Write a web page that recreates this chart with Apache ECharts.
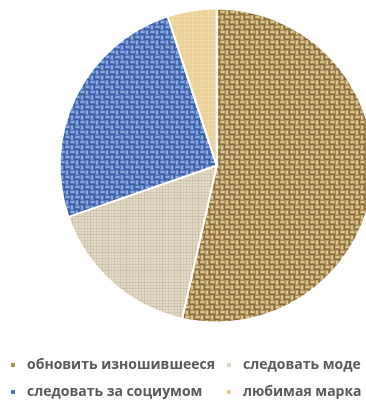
<!DOCTYPE html>
<html>
<head>
<meta charset="utf-8">
<script src="https://cdn.jsdelivr.net/npm/echarts@6/dist/echarts.min.js"></script>
<style>
  html, body { margin: 0; padding: 0; background: #fff; }
  #chart { width: 366px; height: 405px; }
</style>
</head>
<body>
<div id="chart"></div>
<script>
// Причины покупки новой одежды (доли, %)
const categories = ['обновить изношившееся', 'следовать моде', 'следовать за социумом', 'любимая марка'];
const values = [53, 16, 25, 5];

// Woven fabric tile: alternating warp/weft floats over a darker ground
function weave(base, light, dark, cell) {
  const n = 6, size = cell * n;
  const c = document.createElement('canvas');
  c.width = size; c.height = size;
  const g = c.getContext('2d');
  g.fillStyle = base; g.fillRect(0, 0, size, size);
  for (let i = 0; i < n; i++) {
    for (let j = 0; j < n; j++) {
      const x = i * cell, y = j * cell;
      const horiz = (i + j) % 2 === 0;
      g.fillStyle = dark;
      g.globalAlpha = 0.5;
      if (horiz) g.fillRect(x, y + cell - 1, cell, 1);
      else g.fillRect(x + cell - 1, y, 1, cell);
      g.globalAlpha = 0.8;
      g.fillStyle = light;
      if (horiz) g.fillRect(x + 0.5, y + 1, cell - 1, 2);
      else g.fillRect(x + 1, y + 0.5, 2, cell - 1);
    }
  }
  g.globalAlpha = 1;
  return c;
}
// Fine linen tile: soft grid of threads
function linen(base, line, step) {
  const size = step * 6;
  const c = document.createElement('canvas');
  c.width = size; c.height = size;
  const g = c.getContext('2d');
  g.fillStyle = base; g.fillRect(0, 0, size, size);
  g.fillStyle = line;
  for (let k = 0; k < 6; k++) {
    g.globalAlpha = [0.45, 0.2, 0.3, 0.15, 0.4, 0.25][k];
    g.fillRect(k * step, 0, 1, size);
    g.fillRect(0, k * step, size, 1);
  }
  g.globalAlpha = 1;
  return c;
}

const fills = [
  { image: weave('#a98a56', '#e8d4a0', '#5e4626', 5), repeat: 'repeat' },
  { image: linen('#e2dac6', '#b3a585', 3), repeat: 'repeat' },
  { image: weave('#4f73ba', '#9cb6e6', '#203f80', 5), repeat: 'repeat' },
  { image: linen('#ebd29a', '#f7e7bf', 4), repeat: 'repeat' }
];
const swatch = ['#a88a55', '#ddd5c2', '#4f73b8', '#e8c88a'];

const chart = echarts.init(document.getElementById('chart'), null, { renderer: 'canvas' });

const legendText = {
  color: '#595959',
  fontFamily: 'Open Sans',
  fontWeight: 'bold',
  fontSize: 14,
  lineHeight: 16,
  padding: [0, 0, 0, 6]
};
const legendBase = {
  orient: 'vertical', top: 357, padding: 0,
  icon: 'rect', itemWidth: 6, itemHeight: 6, itemGap: 11,
  textStyle: legendText
};

chart.setOption({
  animation: false,
  legend: [
    Object.assign({}, legendBase, {
      left: 9,
      data: [0, 2].map(i => ({ name: categories[i], itemStyle: { color: swatch[i] } }))
    }),
    Object.assign({}, legendBase, {
      left: 225,
      data: [1, 3].map(i => ({ name: categories[i], itemStyle: { color: swatch[i] } }))
    })
  ],
  series: [{
    type: 'pie',
    center: [216.7, 165.5],
    radius: 157,
    startAngle: 90,
    clockwise: true,
    label: { show: false },
    labelLine: { show: false },
    emphasis: { disabled: true },
    itemStyle: { borderColor: '#ffffff', borderWidth: 2 },
    data: categories.map((name, i) => ({
      name,
      value: values[i],
      itemStyle: { color: fills[i] }
    }))
  }]
});
</script>
</body>
</html>
